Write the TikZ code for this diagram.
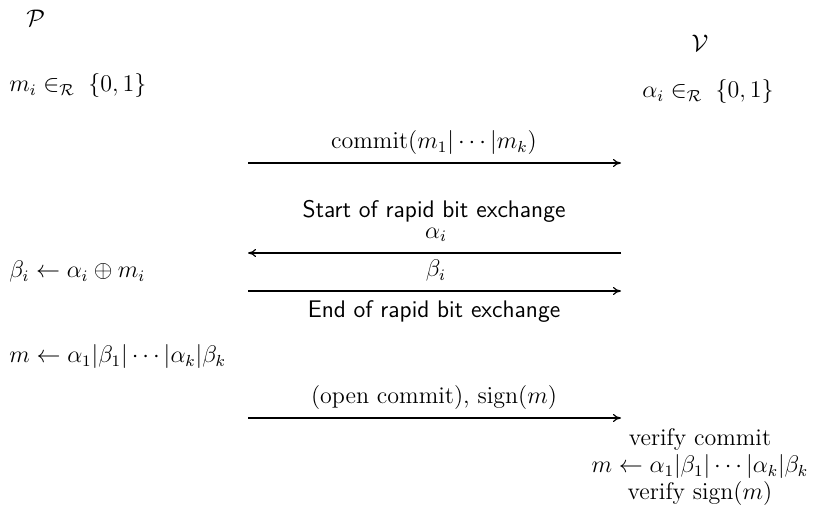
\documentclass[tikz,border=0pt]{standalone}
\usepackage{amsmath,amssymb}
\usetikzlibrary{arrows.meta}
\begin{document}
\begin{tikzpicture}[x=0.5pt,y=-0.5pt,
  every node/.style={font=\fontsize{12}{12}\selectfont, inner sep=0pt},
  msg/.style={line width=0.6pt, -{To[length=4pt,width=4pt]}},
  lbl/.style={anchor=center},
  sflbl/.style={anchor=center, font=\fontsize{12}{12}\selectfont\sffamily}]
\useasboundingbox (0,0) rectangle (821,519);
% parties
\node[anchor=west] (P) at (26,18) {$\mathcal{P}$};
\node[anchor=center] (V) at (700,43) {$\mathcal{V}$};
% initial choices
\node[anchor=west] (mi) at (9,86) {$m_i \in_{\mathcal{R}}\; \{0,1\}$};
\node[anchor=west] (ai) at (642,92) {$\alpha_i \in_{\mathcal{R}}\; \{0,1\}$};
% commit
\node[lbl] (lc) at (434,143) {$\mathrm{commit}(m_1|\cdots|m_k)$};
\coordinate (a1l) at (248,163);
\coordinate (a1r) at (621,163);
\draw[msg] (a1l) -- (a1r);
% rapid bit exchange
\node[sflbl] (start) at (434,211) {Start of rapid bit exchange};
\node[lbl] (la) at (436,235) {$\alpha_i$};
\coordinate (a2l) at (248,253);
\coordinate (a2r) at (621,253);
\draw[msg] (a2r) -- (a2l);
\node[lbl] (lb) at (436,271) {$\beta_i$};
\node[anchor=west] (bi) at (9,272) {$\beta_i \leftarrow \alpha_i \oplus m_i$};
\coordinate (a3l) at (248,291);
\coordinate (a3r) at (621,291);
\draw[msg] (a3l) -- (a3r);
\node[sflbl] (end) at (434,312) {End of rapid bit exchange};
% message
\node[anchor=west] (mP) at (9,357) {$m \leftarrow \alpha_1|\beta_1|\cdots|\alpha_k|\beta_k$};
\node[lbl] (lo) at (434,398) {(open commit), $\mathrm{sign}(m)$};
\coordinate (a4l) at (248,418);
\coordinate (a4r) at (621,418);
\draw[msg] (a4l) -- (a4r);
% verifier
\node[lbl, align=center, font=\fontsize{12}{13.5}\selectfont] (ver) at (700,467) {verify commit\\$m \leftarrow \alpha_1|\beta_1|\cdots|\alpha_k|\beta_k$\\verify $\mathrm{sign}(m)$};
\end{tikzpicture}
\end{document}
